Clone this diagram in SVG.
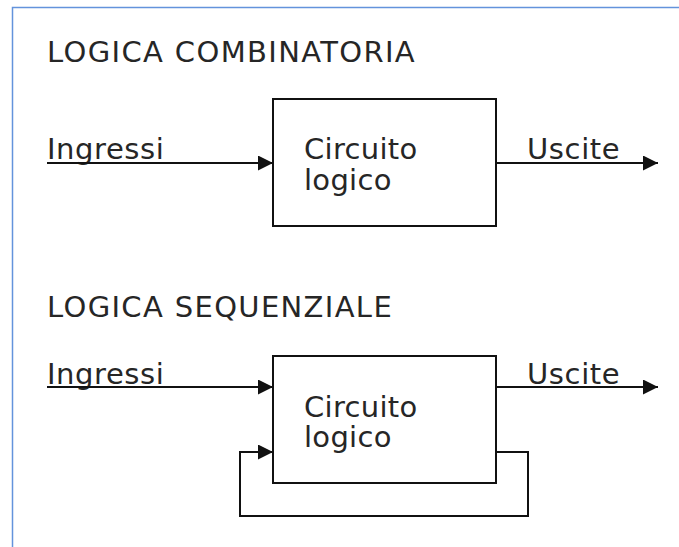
<svg xmlns="http://www.w3.org/2000/svg" width="679" height="547" viewBox="0 0 679 547">
<style>
text{font-family:"DejaVu Sans","Liberation Sans",sans-serif;font-size:29px;fill:#262626;letter-spacing:0.3px}
.box{fill:#fff;stroke:#111;stroke-width:2}
.wire{fill:none;stroke:#111;stroke-width:2}
</style>
<defs>
<marker id="ah" markerUnits="userSpaceOnUse" markerWidth="16" markerHeight="16" refX="15" refY="7.5" orient="auto">
<path d="M0,0 L15,7.5 L0,15 Z" fill="#111"/>
</marker>
</defs>
<rect width="679" height="547" fill="#fff"/>
<path d="M12.5,547 V7.5 H679" fill="none" stroke="#6393dc" stroke-width="1.5"/>
<text x="47" y="62" textLength="368" lengthAdjust="spacing" font-size="28">LOGICA COMBINATORIA</text>
<text x="47" y="317" textLength="345" lengthAdjust="spacing" font-size="28">LOGICA SEQUENZIALE</text>
<g id="comb">
<rect class="box" x="273" y="99" width="223" height="127"/>
<text x="304" y="159">Circuito</text>
<text x="304" y="189.5">logico</text>
</g>
<g id="seq">
<rect class="box" x="273" y="356" width="223" height="127"/>
<text x="304" y="416.5">Circuito</text>
<text x="304" y="447">logico</text>
</g>
<g id="labels">
<text x="47" y="159" textLength="117" lengthAdjust="spacing">Ingressi</text>
<text x="527" y="159" textLength="93" lengthAdjust="spacing">Uscite</text>
<text x="47" y="383.5" textLength="117" lengthAdjust="spacing">Ingressi</text>
<text x="527" y="383.5" textLength="93" lengthAdjust="spacing">Uscite</text>
</g>
<g id="connectors">
<line class="wire" x1="47" y1="163" x2="273" y2="163" marker-end="url(#ah)"/>
<line class="wire" x1="496" y1="163" x2="658" y2="163" marker-end="url(#ah)"/>
<line class="wire" x1="47" y1="387" x2="273" y2="387" marker-end="url(#ah)"/>
<line class="wire" x1="496" y1="387" x2="658" y2="387" marker-end="url(#ah)"/>
<path class="wire" d="M496,452 H528 V516 H240 V452 H273" marker-end="url(#ah)"/>
</g>
</svg>
